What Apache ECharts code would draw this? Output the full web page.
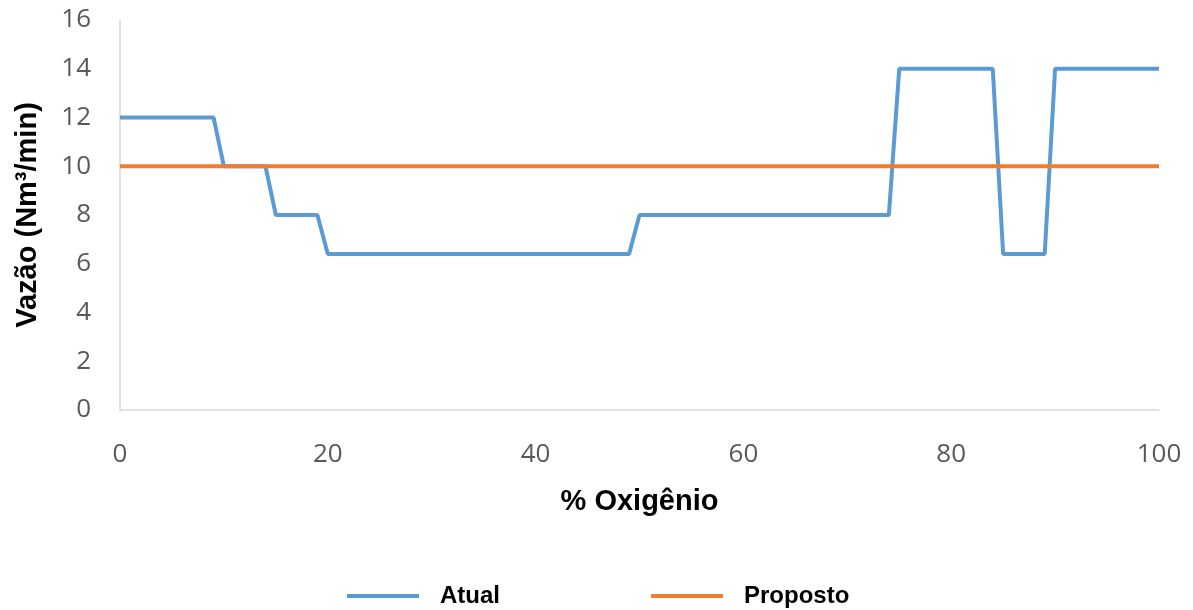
<!DOCTYPE html>
<html><head><meta charset="utf-8">
<script src="https://cdn.jsdelivr.net/npm/echarts@6/dist/echarts.min.js"></script>
<style>html,body{margin:0;padding:0;background:#fff}#c{width:1193px;height:610px}</style>
</head><body><div id="c"></div>
<script>
const oxigenio = [0, 9, 10, 14, 15, 19, 20, 49, 50, 74, 75, 84, 85, 89, 90, 100];
const atual    = [12, 12, 10, 10, 8, 8, 6.4, 6.4, 8, 8, 14, 14, 6.4, 6.4, 14, 14];
const propostoX = [0, 100];
const proposto  = [10, 10];
const yTicks = [0, 2, 4, 6, 8, 10, 12, 14, 16];
const xTicks = [0, 20, 40, 60, 80, 100];

const chart = echarts.init(document.getElementById('c'), null, {renderer: 'canvas'});
const font = 'Open Sans, sans-serif';
const bold = 'Liberation Sans, Arial, sans-serif';
chart.setOption({
  animation: false,
  grid: {left: 120, right: 34, top: 20, bottom: 200, containLabel: false},
  xAxis: {
    type: 'value', min: xTicks[0], max: xTicks[xTicks.length-1], interval: 20,
    name: '% Oxigênio', nameLocation: 'middle', nameGap: 77,
    nameTextStyle: {fontFamily: bold, fontWeight: 'bold', fontSize: 29, color: '#000'},
    axisLine: {show: true, lineStyle: {color: '#d9d9d9', width: 1.5}},
    axisTick: {show: false},
    splitLine: {show: false},
    axisLabel: {fontFamily: font, fontSize: 26, color: '#595959', margin: 32}
  },
  yAxis: {
    type: 'value', min: yTicks[0], max: yTicks[yTicks.length-1], interval: 2,
    name: 'Vazão (Nm³/min)', nameLocation: 'middle', nameGap: 78,
    nameTextStyle: {fontFamily: bold, fontWeight: 'bold', fontSize: 29, color: '#000'},
    axisLine: {show: true, lineStyle: {color: '#d9d9d9', width: 1.5}},
    axisTick: {show: false},
    splitLine: {show: false},
    axisLabel: {fontFamily: font, fontSize: 26, color: '#595959', margin: 29}
  },
  legend: {
    left: 342, top: 579, itemGap: 151, itemWidth: 72, itemHeight: 4,
    textStyle: {fontFamily: bold, fontWeight: 'bold', fontSize: 24, color: '#000', padding: [0,0,0,16]},
    data: [{name: 'Atual', icon: 'rect'}, {name: 'Proposto', icon: 'rect'}]
  },
  series: [
    {name: 'Atual', type: 'line', showSymbol: false, color: '#5B9BD5',
     lineStyle: {width: 4, color: '#5B9BD5'},
     data: oxigenio.map((x, i) => [x, atual[i]])},
    {name: 'Proposto', type: 'line', showSymbol: false, color: '#ED7D31',
     lineStyle: {width: 4, color: '#ED7D31'},
     data: propostoX.map((x, i) => [x, proposto[i]])}
  ]
});
</script></body></html>
